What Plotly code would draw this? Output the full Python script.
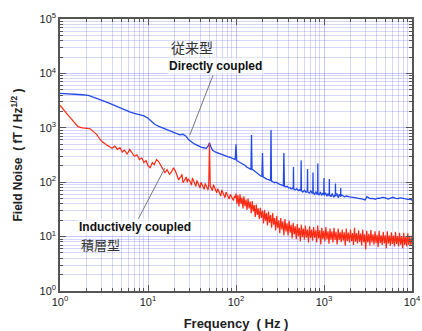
import plotly.graph_objects as go

# ---- Inductively coupled (積層型) noise spectrum, 1 Hz - 100 Hz ----
freq_ind_lf = [
    1.0, 1.1, 1.2, 1.3, 1.45, 1.6, 1.8, 2.0, 2.2, 2.4, 2.6, 2.8, 3.0, 3.3, 3.6, 3.9,
    4.2, 4.5, 4.8, 5.1, 5.4, 5.8, 6.2, 6.6, 7.0, 7.5, 8.0, 8.5, 9.0, 9.5,
    10, 10.6, 11.2, 11.8, 12.5, 13.2, 14, 14.8, 15.6, 16.5, 17.5, 18.5, 19.5, 20.5,
    21.7, 23, 24.3, 25.7, 27.2, 28.7, 30.4, 32, 34, 36, 38, 40, 42.3, 44.7, 47.3, 49,
    50, 51, 52.5, 55.5, 58.7, 62, 65.5, 69, 73, 77, 81.5, 86, 91, 96,
]
noise_ind_lf = [
    2600, 2100, 1800, 1550, 1250, 1050, 1000, 990, 960, 850, 760, 640, 560, 500, 450, 420,
    460, 400, 430, 360, 390, 330, 400, 350, 300, 320, 260, 280, 230, 250,
    200, 185, 230, 210, 260, 240, 200, 175, 150, 170, 140, 155, 185, 160,
    130, 120, 140, 105, 125, 115, 100, 120, 95, 108, 88, 100, 82, 95, 80, 90,
    520, 85, 78, 90, 70, 76, 62, 72, 58, 66, 55, 60, 50, 56,
]
# extra ripples between 20 Hz and 100 Hz
freq_ind_ripple = [
    21.1, 22.3, 23.6, 25, 26.4, 27.9, 29.5, 31.2, 33, 35, 37, 39, 41.1, 43.5, 46, 48.1,
    53.9, 57, 60.3, 63.7, 67.2, 71, 75, 79.2, 83.7, 88.5, 93.5, 98,
]
noise_ind_ripple = [
    140, 110, 125, 98, 118, 100, 108, 88, 105, 84, 96, 78, 92, 74, 86, 72,
    70, 82, 64, 70, 56, 64, 52, 60, 49, 55, 46, 52,
]
# 100 Hz - 10 kHz: dense noise band, upper peaks and lower dips
freq_ind_peak = [
    100, 105, 111, 117, 123, 130, 137, 145, 153, 161, 170, 179, 189, 200, 211, 222,
    234, 247, 261, 275, 290, 306, 323, 341, 360, 380, 401, 423, 446, 471, 497, 524,
    553, 583, 615, 649, 685, 722, 762, 804, 848, 895, 944, 996, 1050, 1110, 1170,
    1230, 1300, 1370, 1450, 1530, 1610, 1700, 1790, 1890, 2000, 2110, 2220, 2340,
    2470, 2610, 2750, 2900, 3060, 3230, 3410, 3600, 3800, 4010, 4230, 4460, 4710,
    4970, 5240, 5530, 5830, 6150, 6490, 6850, 7220, 7620, 8040, 8480, 8950, 9440, 10000,
]
noise_ind_peak = [
    62, 58, 60, 52, 55, 48, 50, 44, 45, 38, 39, 33, 34, 30, 31, 27,
    29, 25, 27, 22, 24, 20, 22, 19, 21, 17.5, 19.5, 16.5, 18, 15.5, 17, 14.5,
    16.5, 14, 16, 13.5, 15.5, 13.5, 15, 13, 16, 13, 14.5, 12.8, 15, 12.5, 14,
    12.5, 14.5, 12.2, 14, 12, 13.5, 12, 14, 11.8, 13.5, 11.6, 14.5, 11.5,
    13, 11.4, 13.5, 11, 12.8, 11.2, 13.2, 11, 12.5, 10.8, 12.8, 10.6, 12.2,
    10.6, 12.5, 10.5, 12, 10.4, 12.2, 10.2, 11.8, 10.2, 11.8, 10, 11.5, 10, 10.5,
]
freq_ind_dip = [
    102.5, 108, 114, 120, 126.5, 133.5, 141, 149, 157, 165.5, 174.5, 184, 194.5, 205.5,
    216.5, 228, 240.5, 254, 268, 282.5, 298, 314.5, 332, 350.5, 370, 390.5, 412, 434.5,
    458.5, 484, 510.5, 538.5, 568, 599, 632, 667, 703.5, 742, 783, 826, 871.5, 919.5,
    970, 1023, 1080, 1140, 1200, 1265, 1335, 1410, 1490, 1570, 1655, 1745, 1840, 1945,
    2055, 2165, 2280, 2405, 2540, 2680, 2825, 2980, 3145, 3320, 3505, 3700, 3905, 4120,
    4345, 4585, 4840, 5105, 5385, 5680, 5990, 6320, 6670, 7035, 7420, 7830, 8260, 8715,
    9190, 9720,
]
noise_ind_dip = [
    40, 36, 40, 33, 36, 31, 33, 27, 29, 23, 25, 21, 22, 17.5,
    19.5, 16, 18, 14.5, 16.5, 13, 14.5, 11.5, 13.5, 10.5, 12.5, 10.5, 11.8, 9.2,
    11, 9, 10.2, 8.2, 9.8, 8.8, 9.6, 7.8, 9.4, 8.4, 9.5, 7.8, 9.2, 7.2,
    9, 8.2, 8.9, 7.4, 8.8, 7.8, 8.7, 7.2, 8.6, 7.9, 8.4, 6.8, 8.3, 7.8,
    8.2, 7, 8.1, 7.5, 8, 6.9, 7.9, 5.8, 7.8, 6.9, 7.8, 7.1, 7.6, 6.4,
    7.6, 7, 7.5, 6.1, 7.4, 6.8, 7.3, 6.6, 7.3, 6.6, 7.1, 6.1, 7, 6.6,
    7, 6.8,
]

# ---- Directly coupled (従来型) noise spectrum ----
freq_dir = [
    1, 1.2, 1.5, 1.8, 2.1, 2.5, 3, 3.5, 4, 4.5, 5, 5.6, 6.3, 7, 8, 9, 10, 11, 12, 13.5,
    15, 17, 19, 21, 23, 25, 27, 29, 31, 34, 37, 40, 43, 46, 48.5, 50, 51.5, 54, 58, 62,
    66, 70, 75, 80, 86, 92, 96, 98,
    100, 102, 106, 110, 115, 120, 126, 132, 138, 144, 148, 150, 152, 157, 163, 170,
    177, 184, 191, 197, 200, 203, 210, 218, 226, 234, 242, 247, 250, 253, 262, 273,
    285, 297, 310, 323, 336, 345, 350, 355, 368, 382, 396, 410, 425, 440, 447, 450,
    453, 470, 490, 510, 530, 546, 550, 554, 575, 600, 625, 646, 650, 654, 680, 710,
    735, 746, 750, 754, 780, 810, 835, 846, 850, 854, 880, 910, 940, 970, 995, 1000,
    1005, 1040, 1080, 1110, 1145, 1150, 1155, 1200, 1240, 1290, 1345, 1350, 1355,
    1400, 1450, 1500, 1545, 1550, 1555, 1600,
    1700, 1800, 1950, 2140, 2350, 2560, 2750, 2930, 3070, 3340, 3600, 3820, 4050,
    4300, 4600, 4900, 5360, 5700, 6100, 6500, 6950, 7400, 7920, 8500, 9020, 9500, 10000,
]
noise_dir = [
    4300, 4250, 4150, 4050, 3950, 3600, 3200, 2900, 2650, 2450, 2250, 2050, 1950, 1850,
    1750, 1650, 1500, 1300, 1150, 1050, 980, 900, 820, 760, 740, 760, 700, 600, 550, 500,
    470, 440, 430, 420, 470, 530, 460, 390, 360, 345, 330, 320, 300, 295, 285, 275, 265, 260,
    500, 250, 240, 232, 225, 215, 205, 190, 185, 178, 172, 740, 175, 168, 160, 150,
    140, 135, 130, 128, 345, 125, 120, 118, 113, 112, 108, 106, 910, 105, 102, 98,
    100, 94, 92, 90, 88, 86, 345, 85, 82, 84, 78, 80, 75, 78, 74, 190,
    75, 72, 76, 70, 73, 69, 250, 70, 66, 71, 65, 68, 175, 66, 63, 69,
    62, 66, 150, 64, 60, 67, 59, 65, 220, 62, 58, 66, 57, 63, 59, 120,
    57, 64, 55, 62, 56, 115, 60, 54, 62, 53, 60, 95, 55,
    62, 52, 60, 54, 78, 56, 58,
    54, 55.7, 53.5, 52.8, 51.5, 50.6, 49, 47, 54, 49.8, 50.5, 48.5, 51,
    50.6, 52.5, 51.9, 49.1, 51, 52.8, 50.5, 49.8, 51.5, 51.3, 49.5, 48.4, 48.5, 47,
]

# ---- Axis ticks ----
x_tick_vals = [1, 10, 100, 1000, 10000]
x_tick_text = ["10<sup>0</sup>", "10<sup>1</sup>", "10<sup>2</sup>", "10<sup>3</sup>", "10<sup>4</sup>"]
y_tick_vals = [1, 10, 100, 1000, 10000, 100000]
y_tick_text = ["10<sup>0</sup>", "10<sup>1</sup>", "10<sup>2</sup>", "10<sup>3</sup>",
               "10<sup>4</sup>", "10<sup>5</sup>"]

minor_x = [m * 10 ** d for d in range(0, 4) for m in range(2, 10)]
minor_y = [m * 10 ** d for d in range(0, 5) for m in range(2, 10)]

# merge all segments of the inductively coupled spectrum into one frequency-ordered trace
ind = sorted(zip(freq_ind_lf + freq_ind_ripple + freq_ind_peak + freq_ind_dip,
                 noise_ind_lf + noise_ind_ripple + noise_ind_peak + noise_ind_dip))
freq_ind = [f for f, _ in ind]
noise_ind = [v for _, v in ind]

BLUE = "#2449e6"
RED = "#ff2a12"
FONT = "Liberation Sans, Arial, sans-serif"
CJK = "Noto Sans CJK JP, sans-serif"

fig = go.Figure()
fig.add_trace(go.Scatter(x=freq_dir, y=noise_dir, mode="lines",
                         line=dict(color=BLUE, width=1.3), name="Directly coupled"))
fig.add_trace(go.Scatter(x=freq_ind, y=noise_ind, mode="lines",
                         line=dict(color=RED, width=1.2), name="Inductively coupled"))

grid_major = "rgba(115,125,240,0.42)"
grid_minor = "rgba(125,135,240,0.32)"
frame = "#555555"

common = dict(
    type="log", showline=True, linecolor=frame, linewidth=1.5, mirror="allticks",
    ticks="inside", ticklen=6, tickwidth=1.2, tickcolor=frame, automargin=False,
    showgrid=True, gridcolor=grid_major, gridwidth=1, zeroline=False,
    tickfont=dict(family=FONT, size=11, color="#222222"),
)

fig.update_xaxes(
    **common, range=[0, 4], tickmode="array", tickvals=x_tick_vals, ticktext=x_tick_text,
    minor=dict(tickmode="array", tickvals=minor_x, ticks="inside", ticklen=3,
               tickcolor=frame, showgrid=True, gridcolor=grid_minor, gridwidth=1),
    title=dict(text="Frequency  ( Hz )", font=dict(family=FONT, size=13, color="#222222",
                                                  weight="bold"), standoff=12),
)
fig.update_yaxes(
    **common, range=[0, 5], tickmode="array", tickvals=y_tick_vals, ticktext=y_tick_text,
    minor=dict(tickmode="array", tickvals=minor_y, ticks="inside", ticklen=3,
               tickcolor=frame, showgrid=True, gridcolor=grid_minor, gridwidth=1),
    title=dict(text="Field Noise  ( fT / Hz<sup>1/2</sup> )",
               font=dict(family=FONT, size=12, color="#222222", weight="bold"), standoff=14),
)

# Labels with leader lines
fig.add_annotation(x=0.375, y=0.897, xref="paper", yref="paper", text="従来型",
                   xanchor="center", yanchor="middle", showarrow=False,
                   font=dict(family=CJK, size=14, color="#333333"))
fig.add_annotation(x=0.443, y=0.827, xref="paper", yref="paper", text="<b>Directly coupled</b>",
                   xanchor="center", yanchor="middle", showarrow=False,
                   font=dict(family=FONT, size=12, color="#111111"),
                   bgcolor="rgba(255,255,255,0.6)")
fig.add_shape(type="line", xref="paper", yref="paper", x0=0.435, y0=0.794, x1=0.369, y1=0.574,
              line=dict(color="#777777", width=1))
fig.add_annotation(x=0.214, y=0.237, xref="paper", yref="paper", text="<b>Inductively coupled</b>",
                   xanchor="center", yanchor="middle", showarrow=False,
                   font=dict(family=FONT, size=12, color="#111111"),
                   bgcolor="rgba(255,255,255,0.6)")
fig.add_annotation(x=0.114, y=0.172, xref="paper", yref="paper", text="積層型",
                   xanchor="center", yanchor="middle", showarrow=False,
                   font=dict(family=CJK, size=13, color="#333333"))
fig.add_shape(type="line", xref="paper", yref="paper", x0=0.222, y0=0.264, x1=0.298, y1=0.452,
              line=dict(color="#777777", width=1))

fig.update_layout(
    width=422, height=331, showlegend=False,
    margin=dict(l=60, r=10, t=19, b=40),
    paper_bgcolor="white", plot_bgcolor="white",
)

fig.write_html("out.html")
